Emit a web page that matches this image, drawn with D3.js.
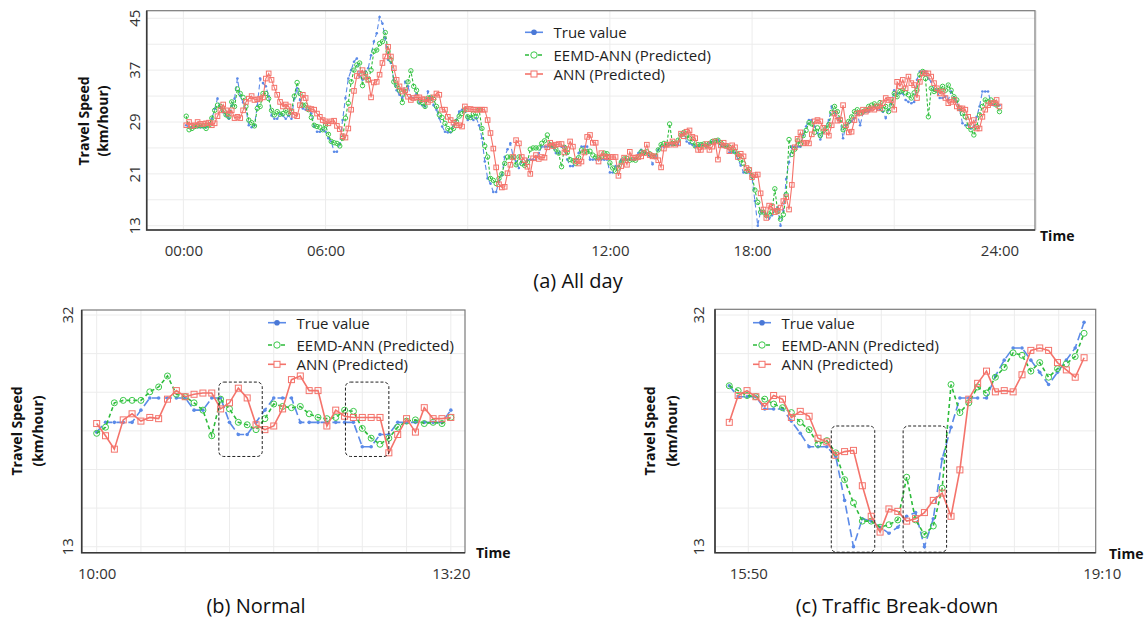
<!DOCTYPE html>
<html>
<head>
<meta charset="utf-8">
<script src="https://cdn.jsdelivr.net/npm/d3@7"></script>
<style>
  body { margin: 0; background: #fff; }
  svg { display: block; font-family: "Open Sans", sans-serif; }
</style>
</head>
<body>
<svg id="chart" width="1147" height="619"></svg>
<script>
// ---- tick labels ----
const dayHours = ["00:00", "06:00", "12:00", "18:00", "24:00"];
const dayHourIdx = [0, 50, 150, 200, 287];
const dayYTicks = [13, 21, 29, 37, 45];
const normalHours = ["10:00", "13:20"];
const normalHourIdx = [0, 40];
const breakHours = ["15:50", "19:10"];
const breakHourIdx = [2.14, 42];
const zoomYTicks = [13, 32];
const seriesNames = ["True value", "EEMD-ANN (Predicted)", "ANN (Predicted)"];

// ---- (b) Normal, 10:00-13:20, 5 min steps ----
const normalTrue = [22.4, 23.2, 23.2, 23.2, 23.2, 24.2, 25.2, 25.2, 25.2, 25.2, 25.2, 24.2, 24.2, 25.2, 25.2, 23.2, 22.2, 22.2, 23.2, 24.2, 25.2, 25.2, 25.2, 23.2, 23.2, 23.2, 23.2, 23.2, 23.2, 23.2, 21.2, 21.2, 22.2, 22.2, 23.2, 23.2, 23.2, 23.2, 23.2, 23.2, 24.2];
const normalEemd = [22.3, 22.8, 24.8, 25.0, 25.0, 25.0, 25.7, 26.1, 27.0, 25.5, 25.3, 24.8, 24.2, 22.1, 25.1, 24.3, 23.2, 23.0, 22.6, 23.5, 24.7, 24.5, 24.4, 24.5, 23.9, 23.6, 23.5, 23.6, 24.2, 24.1, 22.7, 21.9, 21.4, 21.9, 22.8, 23.3, 23.4, 23.1, 23.2, 23.1, 23.6];
const normalAnn = [23.1, 22.1, 21.0, 23.4, 23.9, 23.3, 23.6, 23.5, 25.1, 25.8, 25.3, 25.5, 25.6, 25.6, 24.3, 24.8, 26.0, 25.2, 23.0, 22.6, 22.9, 24.3, 26.7, 27.0, 25.8, 25.8, 22.9, 24.2, 23.7, 23.6, 23.6, 23.6, 23.6, 20.7, 22.2, 23.5, 22.4, 24.4, 23.5, 23.5, 23.6];

// ---- (c) Traffic break-down ----
const breakTrue = [26.2, 25.3, 25.3, 25.3, 24.3, 24.3, 24.3, 23.3, 22.3, 21.2, 21.2, 21.2, 20.4, 16.8, 13.0, 15.3, 15.1, 14.6, 14.1, 14.6, 15.5, 15.8, 13.0, 15.3, 20.2, 22.8, 25.2, 25.2, 25.2, 25.2, 27.0, 28.3, 29.3, 29.3, 28.3, 27.3, 26.3, 27.3, 28.3, 29.3, 31.4];
const breakEemd = [26.2, 25.8, 25.4, 25.3, 25.1, 24.7, 24.4, 24.0, 23.2, 22.6, 21.4, 21.7, 20.7, 18.5, 16.6, 15.1, 15.1, 14.6, 14.8, 15.2, 18.7, 15.2, 14.0, 14.7, 17.8, 26.3, 24.0, 24.8, 26.1, 25.6, 26.9, 27.7, 28.9, 28.7, 27.4, 28.1, 26.9, 27.6, 28.0, 28.6, 30.5];
const breakAnn = [23.2, 25.4, 25.8, 25.3, 24.5, 25.4, 25.1, 23.6, 24.1, 23.7, 21.9, 21.6, 20.5, 20.8, 20.9, 18.0, 15.5, 14.2, 16.1, 15.9, 15.1, 15.3, 15.8, 16.8, 17.4, 15.5, 19.3, 25.1, 26.4, 27.4, 25.7, 25.8, 25.7, 27.1, 29.1, 29.3, 29.1, 28.1, 27.5, 26.9, 28.5];

// ---- (a) All day: the pieces around the two zoomed windows ----
const dayTrueHead = [28.5, 28.2, 28.2, 28.2, 28.2, 28.2, 28.2, 28.2, 28.5, 29.5, 31.0, 32.6, 31.2, 30.5, 30.0, 29.5, 31.5, 32.6, 35.7, 33.0, 32.0, 31.0, 28.5, 28.2, 28.5, 31.5, 35.7, 35.0, 34.5, 33.0, 30.0, 29.5, 29.5, 30.2, 30.0, 29.5, 30.0, 29.5, 32.6,
  34.2, 32.4, 31.1, 30.9, 30.9, 30.3, 28.3, 27.5, 27.5, 27.8, 27.5, 26.5, 26.0, 24.4, 24.4, 25.7, 29.3, 32.7, 35.7, 37.0, 38.3, 38.8, 36.0, 35.5, 36.8, 37.3, 39.3, 41.4, 42.7, 45.2, 44.2, 41.9, 38.6, 38.1, 35.5, 33.9, 33.2, 32.7, 35.2, 34.5, 32.9, 32.7,
  33.4, 31.9, 31.6, 31.4, 33.7, 32.8, 31.6, 30.9, 29.6, 28.3, 27.5, 27.4, 27.4, 28.5, 29.3, 30.6, 30.9, 30.9, 29.3, 29.8, 29.3, 29.6, 28.5, 26.5, 22.9, 20.3, 19.5, 18.2, 18.2, 19.8, 20.8, 23.6, 24.8, 25.7, 23.6, 22.9, 21.9, 22.9];
const dayEemdHead = [29.9, 27.8, 28.0, 28.3, 28.4, 28.4, 28.4, 28.0, 28.5, 29.6, 30.8, 31.6, 31.4, 30.8, 30.1, 29.8, 32.1, 31.4, 34.1, 33.4, 32.8, 31.4, 29.3, 28.9, 28.4, 31.1, 31.4, 33.4, 33.4, 32.6, 30.8, 30.1, 30.6, 30.2, 30.3, 30.8, 30.3, 30.6, 33.0,
  35.1, 33.4, 31.6, 31.6, 30.9, 29.7, 28.5, 28.3, 28.2, 27.8, 28.5, 27.1, 26.0, 25.8, 25.7, 25.3, 26.5, 29.6, 31.9, 35.2, 37.0, 37.8, 38.1, 34.6, 36.5, 35.5, 37.0, 39.9, 40.1, 41.1, 41.4, 42.8, 39.9, 38.6, 35.2, 34.6, 33.9, 32.0, 33.7, 35.2, 36.9, 34.5,
  33.9, 32.1, 32.0, 31.4, 32.7, 32.8, 32.5, 31.4, 30.1, 29.7, 28.8, 28.0, 27.7, 28.0, 29.1, 29.9, 30.3, 30.9, 29.8, 29.7, 30.3, 29.8, 30.9, 28.0, 25.3, 23.6, 20.3, 20.0, 19.5, 20.3, 21.0, 22.6, 23.6, 23.6, 23.6, 22.4, 23.6, 22.6];
const dayAnnHead = [28.5, 29.0, 28.4, 28.5, 29.0, 28.7, 28.7, 28.8, 28.9, 28.5, 28.8, 29.9, 30.8, 31.7, 30.8, 30.3, 30.8, 29.6, 29.8, 29.6, 30.8, 32.1, 32.6, 33.0, 32.4, 32.5, 32.6, 32.8, 35.7, 36.5, 35.5, 34.3, 33.2, 32.1, 31.4, 31.7, 31.4, 30.6, 30.1,
  29.9, 31.6, 33.2, 32.7, 31.1, 31.0, 30.9, 30.3, 29.8, 29.3, 29.1, 28.8, 29.1, 29.2, 28.4, 27.9, 26.8, 26.6, 28.0, 30.9, 33.8, 36.1, 36.5, 37.0, 36.0, 35.5, 32.8, 35.1, 35.2, 36.3, 38.1, 39.1, 40.6, 39.1, 37.3, 35.5, 34.5, 33.7, 33.9, 32.9, 32.4, 32.7,
  32.8, 32.8, 32.5, 32.5, 32.1, 32.4, 32.8, 33.4, 33.2, 30.9, 30.9, 29.8, 29.3, 28.9, 28.5, 28.5, 28.3, 31.4, 31.0, 31.0, 30.9, 30.9, 30.9, 30.9, 30.9, 29.3, 27.3, 24.9, 22.0, 19.4, 18.9, 19.0, 21.1, 22.4, 23.6, 26.2, 25.7, 23.6];

const dayTrueMid = [24.7, 24.2, 24.2, 23.7, 22.5, 23.7, 24.7, 25.2, 25.2, 25.5, 25.5, 25.5, 25.5, 25.5, 27.0, 27.3, 26.0, 25.7, 25.5, 25.2, 25.2, 25.5, 25.5, 25.2, 25.7, 26.0, 25.7];
const dayEemdMid = [24.4, 24.3, 24.4, 24.1, 23.8, 23.7, 24.7, 25.5, 25.7, 25.5, 28.7, 25.7, 25.7, 26.2, 27.0, 27.4, 27.0, 26.5, 26.0, 25.3, 25.5, 25.5, 25.6, 25.3, 25.7, 26.0, 26.1];
const dayAnnMid = [23.7, 24.2, 25.5, 23.9, 23.7, 23.7, 23.1, 22.0, 24.9, 25.5, 25.5, 26.0, 25.5, 25.7, 27.2, 26.8, 27.5, 27.7, 26.7, 26.5, 24.7, 24.7, 25.2, 25.6, 24.7, 25.2, 26.0];

const dayTrueTail = [30.6, 29.6, 29.1, 26.5, 28.5, 28.8, 29.1, 29.6, 30.3, 28.5, 30.3, 30.6, 30.6, 31.1, 31.4, 30.9, 30.9, 30.6, 29.6, 30.9, 31.9, 33.9, 33.4, 33.4, 33.4, 32.4, 32.1, 31.9, 32.1, 35.5, 36.8, 36.8,
  36.8, 35.7, 35.2, 33.9, 33.9, 32.7, 32.7, 32.9, 32.4, 33.7, 32.8, 32.1, 30.9, 28.8, 28.5, 28.5, 28.0, 28.3, 29.8, 31.4, 33.7, 33.7, 33.7, 31.9, 31.6, 31.6, 31.6];
const dayEemdTail = [31.4, 30.6, 29.4, 27.8, 28.3, 29.1, 29.8, 30.6, 30.9, 30.4, 30.6, 30.9, 31.4, 31.6, 31.8, 31.4, 32.0, 30.9, 31.4, 30.6, 31.6, 33.4, 32.9, 33.7, 33.9, 33.5, 33.2, 32.7, 33.5, 33.9, 36.3, 36.8,
  35.7, 29.8, 34.2, 33.7, 33.9, 33.9, 34.5, 33.9, 34.7, 33.9, 32.9, 32.4, 31.1, 30.3, 29.8, 28.3, 27.8, 27.0, 28.3, 30.1, 31.4, 32.4, 32.1, 32.4, 32.1, 31.6, 30.6];
const dayAnnTail = [30.3, 29.2, 29.3, 31.6, 28.5, 27.4, 27.5, 29.3, 30.3, 30.4, 30.9, 30.6, 30.9, 31.1, 30.9, 31.4, 31.1, 31.9, 32.7, 32.4, 32.4, 30.9, 35.2, 34.5, 35.5, 34.2, 36.0, 35.0, 34.7, 32.7, 35.2, 36.5,
  36.5, 36.5, 36.0, 35.0, 34.2, 33.4, 33.7, 32.7, 31.9, 32.1, 32.4, 31.4, 31.1, 31.1, 30.9, 29.8, 28.5, 29.3, 28.0, 28.0, 29.8, 30.9, 31.6, 31.9, 31.9, 32.4, 31.4];

const dayTrue = dayTrueHead.concat(normalTrue, dayTrueMid, breakTrue, dayTrueTail);
const dayEemd = dayEemdHead.concat(normalEemd, dayEemdMid, breakEemd, dayEemdTail);
const dayAnn = dayAnnHead.concat(normalAnn, dayAnnMid, breakAnn, dayAnnTail);

// dashed boxes: [x0, x1, yLow, yHigh] in step / km/h units
const normalBoxes = [[13.8, 18.7, 20.4, 26.5], [28.1, 33.0, 20.4, 26.5]];
const breakBoxes = [[11.5, 16.4, 12.55, 22.9], [19.6, 24.5, 12.55, 22.9]];

const blue = "#5b8ae8", green = "#2dbb3a", red = "#f4736b";
const svg = d3.select("#chart");

function drawPanel(p) {
  const x = d3.scaleLinear().domain(p.xDomain).range([p.left, p.right]);
  const y = d3.scaleLinear().domain(p.yDomain).range([p.bottom, p.top]);
  const g = svg.append("g");

  // grid
  g.selectAll(".hg").data(p.yGrid).join("line")
    .attr("x1", p.left).attr("x2", p.right)
    .attr("y1", d => y(d)).attr("y2", d => y(d))
    .attr("stroke", "#ececec").attr("stroke-width", 1);
  g.selectAll(".vg").data(p.xGrid).join("line")
    .attr("y1", p.top).attr("y2", p.bottom)
    .attr("x1", d => x(d)).attr("x2", d => x(d))
    .attr("stroke", "#ececec").attr("stroke-width", 1);

  const s = p.small;
  const lw = s ? 1.1 : 1.6;
  const line = d3.line().x((d, i) => x(i + p.start)).y(d => y(d));

  // True value
  g.append("path").datum(p.trueV).attr("d", line).attr("fill", "none")
    .attr("stroke", blue).attr("stroke-width", lw).attr("stroke-dasharray", s ? "5,3" : "8,4");
  g.selectAll(".tv").data(p.trueV).join("circle")
    .attr("cx", (d, i) => x(i + p.start)).attr("cy", d => y(d))
    .attr("r", s ? 1.3 : 1.8).attr("fill", blue);

  // EEMD-ANN
  g.append("path").datum(p.eemd).attr("d", line).attr("fill", "none")
    .attr("stroke", green).attr("stroke-width", lw).attr("stroke-dasharray", s ? "3,2" : "4,3");
  g.selectAll(".ev").data(p.eemd).join("circle")
    .attr("cx", (d, i) => x(i + p.start)).attr("cy", d => y(d))
    .attr("r", s ? 2.2 : 3).attr("fill", "none").attr("stroke", "#3cc94a").attr("stroke-width", 1);

  // ANN
  const sq = s ? 4.6 : 6;
  g.append("path").datum(p.ann).attr("d", line).attr("fill", "none")
    .attr("stroke", red).attr("stroke-width", lw);
  g.selectAll(".av").data(p.ann).join("rect")
    .attr("x", (d, i) => x(i + p.start) - sq / 2).attr("y", d => y(d) - sq / 2)
    .attr("width", sq).attr("height", sq)
    .attr("fill", "none").attr("stroke", red).attr("stroke-width", 1);

  // panel border
  g.append("rect").attr("x", p.left).attr("y", p.top)
    .attr("width", p.right - p.left).attr("height", p.bottom - p.top)
    .attr("fill", "none").attr("stroke", "#7a7a7a").attr("stroke-width", 1.2);
  g.append("path").attr("d", `M${p.left},${p.top}V${p.bottom}H${p.right}`)
    .attr("fill", "none").attr("stroke", "#3a3a3a").attr("stroke-width", 1.6);

  // dashed boxes
  g.selectAll(".box").data(p.boxes || []).join("rect")
    .attr("x", d => x(d[0])).attr("y", d => y(d[3]))
    .attr("width", d => x(d[1]) - x(d[0])).attr("height", d => y(d[2]) - y(d[3]))
    .attr("rx", 5).attr("fill", "none").attr("stroke", "#222")
    .attr("stroke-width", 1).attr("stroke-dasharray", "3,2");

  // x labels
  const ax = g.append("g").attr("transform", `translate(0,${p.bottom})`)
    .call(d3.axisBottom(x).tickValues(p.xTicks).tickFormat((d, i) => p.xLabels[i])
      .tickSize(0).tickPadding(15.5));
  ax.select(".domain").remove();
  ax.selectAll("text").attr("font-size", 15).attr("fill", "#333")
    .attr("font-family", "Open Sans");

  // y labels (rotated)
  g.selectAll(".yl").data(p.yTicks).join("text")
    .attr("transform", d => `translate(${p.yLabelX},${y(d)}) rotate(-90)`)
    .attr("text-anchor", "middle").attr("dominant-baseline", "central")
    .attr("font-size", 15).attr("fill", "#333").text(d => d);

  // axis titles
  ["Travel Speed", "(km/hour)"].forEach((t, i) => {
    g.append("text")
      .attr("transform", `translate(${p.titleX[i]},${p.titleY}) rotate(-90)`)
      .attr("text-anchor", "middle").attr("dominant-baseline", "central")
      .attr("font-size", 14).attr("font-weight", "bold").attr("fill", "#111").text(t);
  });
  g.append("text").attr("x", p.timeX).attr("y", p.timeY)
    .attr("font-size", 14).attr("font-weight", "bold").attr("fill", "#111").text("Time");

  // caption
  g.append("text").attr("x", p.captionX).attr("y", p.captionY)
    .attr("text-anchor", "middle").attr("font-size", 20).attr("fill", "#111").text(p.caption);

  // legend
  const lg = g.append("g");
  seriesNames.forEach((name, i) => {
    const ly = p.legendY[i], lx = p.legendX;
    const col = [blue, green, red][i];
    lg.append("line").attr("x1", lx).attr("x2", lx + 18).attr("y1", ly).attr("y2", ly)
      .attr("stroke", col).attr("stroke-width", 1.6)
      .attr("stroke-dasharray", i === 1 ? "4,2.5" : null);
    if (i === 0) lg.append("circle").attr("cx", lx + 9).attr("cy", ly).attr("r", 2.8).attr("fill", "#4a78d6");
    if (i === 1) lg.append("circle").attr("cx", lx + 9).attr("cy", ly).attr("r", 3.2)
      .attr("fill", "#fff").attr("stroke", "#3cc94a").attr("stroke-width", 1);
    if (i === 2) lg.append("rect").attr("x", lx + 6).attr("y", ly - 3).attr("width", 6).attr("height", 6)
      .attr("fill", "#fff").attr("stroke", red).attr("stroke-width", 1);
    lg.append("text").attr("x", lx + 28.5).attr("y", ly).attr("dominant-baseline", "central")
      .attr("font-size", 15).attr("fill", "#1e1e1e").text(name);
  });
}

drawPanel({
  left: 146.7, right: 1035, top: 10.7, bottom: 230,
  xDomain: [-12.9, 299.5], yDomain: [12.34, 46.17],
  xGrid: d3.range(0, 301, 50), yGrid: d3.range(13, 46, 4),
  xTicks: dayHourIdx, xLabels: dayHours, yTicks: dayYTicks, yLabelX: 134,
  start: 1, trueV: dayTrue, eemd: dayEemd, ann: dayAnn, small: true,
  legendX: 525, legendY: [32.3, 55, 74],
  titleX: [83, 102], titleY: 121, timeX: 1040, timeY: 241,
  caption: "(a) All day", captionX: 578, captionY: 288
});

const zoomGrid = d3.range(7).map(k => 13 + k * 19 / 6);

drawPanel({
  left: 81.7, right: 465, top: 310, bottom: 552.7,
  xDomain: [-1.69, 41.6], yDomain: [12.51, 32.41],
  xGrid: d3.range(0, 41, 5), yGrid: zoomGrid,
  xTicks: normalHourIdx, xLabels: normalHours, yTicks: zoomYTicks, yLabelX: 66.7,
  start: 0, trueV: normalTrue, eemd: normalEemd, ann: normalAnn, small: false,
  boxes: normalBoxes,
  legendX: 268, legendY: [322.7, 345, 364.3],
  titleX: [16, 37.3], titleY: 431, timeX: 476, timeY: 558,
  caption: "(b) Normal", captionX: 256, captionY: 613
});

drawPanel({
  left: 715, right: 1095.7, top: 309.3, bottom: 552.7,
  xDomain: [-1.61, 41.31], yDomain: [12.51, 32.47],
  xGrid: d3.range(8).map(k => 2.14 + 5 * k), yGrid: zoomGrid,
  xTicks: breakHourIdx, xLabels: breakHours, yTicks: zoomYTicks, yLabelX: 698,
  start: 0, trueV: breakTrue, eemd: breakEemd, ann: breakAnn, small: false,
  boxes: breakBoxes,
  legendX: 753, legendY: [322.7, 345, 364.3],
  titleX: [649.3, 671], titleY: 431, timeX: 1109, timeY: 559,
  caption: "(c) Traffic Break-down", captionX: 897, captionY: 613
});
</script>
</body>
</html>
